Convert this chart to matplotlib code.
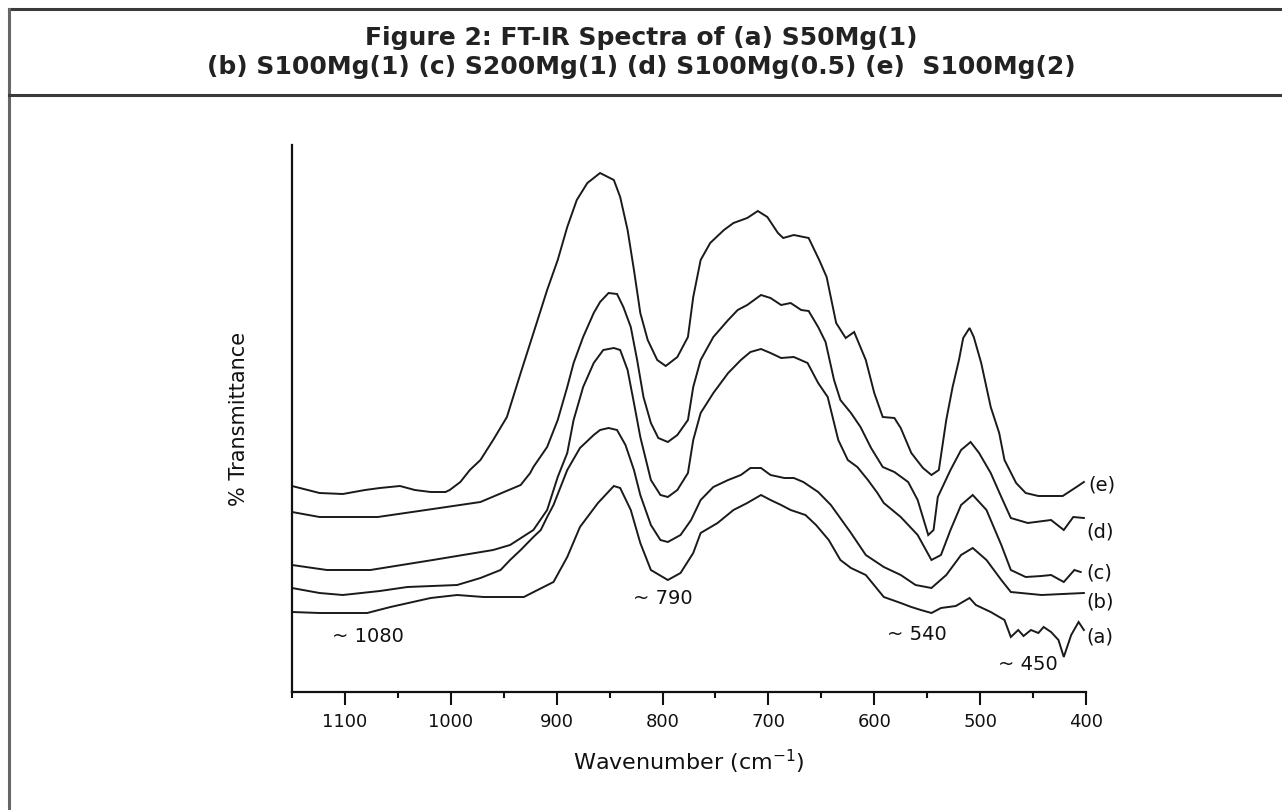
import matplotlib
matplotlib.use("Agg")
import matplotlib.pyplot as plt
from matplotlib.lines import Line2D
from matplotlib.ticker import MultipleLocator

plt.rcParams['font.family'] = ['DejaVu Sans']

title_lines = ["Figure 2: FT-IR Spectra of (a) S50Mg(1)",
               "(b) S100Mg(1) (c) S200Mg(1) (d) S100Mg(0.5) (e)  S100Mg(2)"]
x_label = "Wavenumber (cm$^{-1}$)"
y_label = "% Transmittance"

wn_e = [1150, 1124, 1102, 1081, 1067, 1048, 1034, 1019, 1005, 1001, 991, 982, 972, 960, 947, 934,
        918, 909, 899, 890, 881, 871, 859, 846, 840, 833, 827, 821, 814, 805, 797, 786, 776, 771,
        764, 755, 742, 733, 720, 710, 701, 691, 686, 676, 662, 652, 645, 636, 627, 619, 608, 600,
        592, 581, 575, 565, 554, 546, 539, 532, 526, 520, 516, 510, 506, 499, 490, 482, 477, 466,
        457, 445, 422, 409, 402]
t_e = [206, 199, 198, 202, 204, 206, 202, 200, 200, 202, 210, 222, 232, 252, 275, 319,
       372, 402, 432, 465, 492, 509, 519, 512, 495, 462, 422, 379, 352, 332, 326, 335, 355, 395,
       432, 449, 462, 469, 474, 481, 475, 459, 454, 457, 454, 432, 415, 369, 354, 360, 332, 299,
       275, 274, 264, 239, 224, 217, 222, 272, 305, 332, 354, 364, 355, 329, 285, 259, 232, 209,
       199, 196, 196, 205, 210]

wn_d = [1150, 1124, 1069, 1017, 972, 934, 925, 922, 909, 899, 890, 884, 875, 865, 859, 851, 843,
        837, 830, 824, 818, 811, 804, 795, 786, 776, 771, 764, 752, 738, 729, 720, 707, 698, 688,
        679, 669, 662, 653, 646, 638, 632, 622, 613, 603, 592, 581, 568, 559, 549, 544, 540, 528,
        518, 509, 501, 490, 480, 471, 455, 433, 421, 412, 402]
t_d = [180, 175, 175, 183, 190, 207, 219, 225, 245, 272, 305, 329, 355, 379, 390, 399, 398,
       385, 365, 332, 295, 269, 254, 250, 257, 272, 305, 332, 355, 372, 382, 387, 397, 394, 387,
       389, 382, 381, 365, 350, 312, 292, 279, 265, 244, 225, 220, 210, 192, 157, 162, 195, 222,
       242, 250, 239, 219, 195, 174, 169, 172, 162, 175, 174]

wn_c = [1150, 1117, 1076, 1017, 960, 944, 922, 909, 899, 890, 884, 875, 865, 856, 846, 840, 833,
        827, 821, 811, 802, 795, 786, 776, 771, 764, 752, 738, 726, 717, 707, 698, 688, 676, 663,
        653, 644, 634, 625, 616, 606, 597, 591, 575, 559, 546, 537, 528, 518, 507, 494, 480, 471,
        457, 442, 433, 421, 411, 405]
t_c = [127, 122, 122, 132, 142, 147, 162, 182, 215, 239, 272, 305, 329, 342, 344, 342, 322,
       289, 255, 212, 197, 195, 202, 219, 252, 279, 299, 319, 332, 340, 343, 339, 334, 335, 329,
       309, 295, 252, 232, 225, 212, 199, 189, 175, 157, 132, 137, 162, 187, 197, 182, 147, 122,
       115, 116, 117, 110, 122, 120]

wn_b = [1150, 1124, 1102, 1067, 1041, 994, 972, 953, 944, 934, 922, 915, 909, 903, 890, 878, 865,
        859, 851, 843, 835, 827, 821, 811, 802, 795, 783, 773, 764, 752, 738, 726, 717, 707, 698,
        685, 676, 667, 653, 641, 622, 608, 591, 575, 561, 546, 532, 518, 507, 494, 480, 471, 442,
        402]
t_b = [104, 99, 97, 101, 105, 107, 114, 122, 132, 142, 155, 162, 175, 187, 222, 244, 257,
       262, 264, 262, 247, 222, 197, 167, 152, 150, 157, 172, 192, 205, 212, 217, 224, 224, 217,
       214, 214, 210, 200, 187, 159, 137, 125, 117, 107, 104, 117, 137, 144, 132, 112, 100, 97,
       99]

wn_a = [1150, 1124, 1079, 1057, 1019, 994, 969, 931, 918, 903, 890, 878, 861, 846, 840, 830, 821,
        811, 795, 783, 771, 764, 748, 733, 720, 707, 698, 688, 679, 665, 655, 643, 632, 622, 608,
        591, 575, 565, 556, 546, 537, 523, 510, 504, 490, 477, 471, 464, 459, 452, 445, 440, 433,
        426, 421, 414, 407, 402]
t_a = [80, 79, 79, 85, 94, 97, 95, 95, 102, 110, 135, 165, 189, 206, 204, 182, 149,
       122, 112, 119, 139, 159, 169, 182, 189, 197, 192, 187, 182, 177, 167, 152, 132, 124, 117,
       95, 89, 85, 82, 79, 84, 86, 94, 87, 80, 72, 55, 62, 56, 62, 59, 65, 60,
       52, 35, 57, 70, 62]

series_names = ["(a)", "(b)", "(c)", "(d)", "(e)"]
series_wn = [wn_a, wn_b, wn_c, wn_d, wn_e]
series_t = [t_a, t_b, t_c, t_d, t_e]
label_pos = [(400, 55), (400, 90), (400, 119), (400, 160), (398, 207)]

annotations = ["~ 1080", "~ 790", "~ 540", "~ 450"]
annotation_pos = [(1078, 56), (800, 94), (560, 58), (455, 28)]

x_ticks = [1100, 1000, 900, 800, 700, 600, 500, 400]

# ---- figure ----
W, H = 1282, 810
fig = plt.figure(figsize=(W / 100, H / 100), dpi=100)
fig.patch.set_facecolor("white")

border_col = "#3a3a3a"
fig.add_artist(Line2D([9 / W, 1.0], [1 - 9 / H, 1 - 9 / H], color=border_col, lw=2.2))
fig.add_artist(Line2D([9 / W, 9 / W], [0, 1 - 9 / H], color="#666666", lw=2.2))
fig.add_artist(Line2D([9 / W, 1.0], [1 - 95 / H, 1 - 95 / H], color=border_col, lw=2.2))

fig.text(0.5, 1 - 38 / H, title_lines[0], ha="center", va="center",
         fontsize=18, fontweight="bold", color="#222222")
fig.text(0.5, 1 - 67 / H, title_lines[1], ha="center", va="center",
         fontsize=18, fontweight="bold", color="#222222")

ax = fig.add_axes([292 / W, 1 - 692 / H, (1086 - 292) / W, (692 - 145) / H])
for wn, t in zip(series_wn, series_t):
    ax.plot(wn, t, color="#1a1a1a", lw=1.4, solid_joinstyle="miter")

ax.set_xlim(1150, 400)
ax.set_ylim(0, 547)
ax.spines["top"].set_visible(False)
ax.spines["right"].set_visible(False)
for s in ("left", "bottom"):
    ax.spines[s].set_linewidth(1.6)
    ax.spines[s].set_color("#111111")
ax.set_yticks([])
ax.set_xticks(x_ticks)
ax.xaxis.set_minor_locator(MultipleLocator(50))
ax.tick_params(axis="x", which="major", length=9, width=1.5, pad=6, labelsize=13,
               direction="out", colors="#111111")
ax.tick_params(axis="x", which="minor", length=4.5, width=1.5, direction="out",
               colors="#111111")
ax.set_xlabel(x_label, fontsize=16, labelpad=12, color="#111111")
ax.set_ylabel(y_label, fontsize=15, labelpad=31, color="#111111")

for name, (lx, ly) in zip(series_names, label_pos):
    ax.text(lx, ly, name, ha="left", va="center", fontsize=14, color="#111111")
for txt, (axx, ayy) in zip(annotations, annotation_pos):
    ax.text(axx, ayy, txt, ha="center", va="center", fontsize=14, color="#111111")

fig.savefig("out.png", dpi=100, facecolor="white")
